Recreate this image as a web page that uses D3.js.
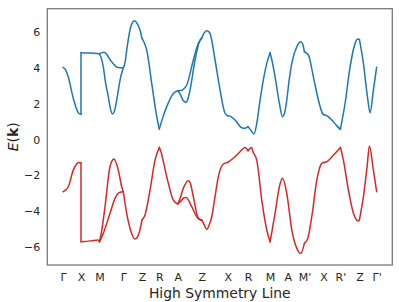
<!DOCTYPE html>
<html><head><meta charset="utf-8">
<script src="https://cdn.jsdelivr.net/npm/d3@7"></script>
<style>body{margin:0;background:#fff;} text{font-family:"DejaVu Sans",sans-serif;fill:#262626;}</style>
</head><body><svg id="c" width="399" height="302"></svg>
<script>
// High-symmetry tick labels and their k positions
const tickLabels = ["Γ","X","M","Γ","Z","R","A","Z","X","R","M","A","M'","X","R'","Z","Γ'"];
const tickK = [0,18,36.5,60.3,79,96.3,114.7,138.7,164.7,185,207,224.7,241.3,260.3,277.3,296.3,313.5];
const yTicks = [-6,-4,-2,0,2,4,6];

// Upper (conduction) band, as [k, E] segments
const upperBand = [
  [[0,4.04],[2,3.95],[5.3,3.5],[10.3,2.3],[14.7,1.56],[17,1.41],[18,1.41]],
  [[18,4.86],[27,4.84],[36.5,4.80]],
  [[36.5,4.80],[38.5,4.85],[41.3,4.88],[44.3,4.72],[47.3,4.45],[50.3,4.24],[53,4.08],[55.3,4.03],[60.3,4.0]],
  [[36.5,4.80],[38,4.6],[40.3,4.07],[42.5,3.2],[45.3,2.4],[47.5,1.7],[49.3,1.43],[51.5,1.6],[53.7,2.21],[57.7,3.51],[60.3,4.0]],
  [[60.3,4.0],[62,4.3],[63.7,5.0],[67,6.13],[69,6.5],[71.3,6.65],[73.5,6.55],[77,6.13],[79,5.66]],
  [[79,5.66],[81,5.45],[83.7,5.0],[88.7,3.14],[93.7,1.28],[96.3,0.59]],
  [[96.3,0.59],[99,1.1],[103.7,1.84],[110.3,2.58],[114.7,2.73]],
  [[114.7,2.73],[118.7,2.74],[121,2.85],[123.7,3.05],[130.3,4.45],[135.3,5.38],[138.7,5.66]],
  [[114.7,2.73],[117,2.55],[120,2.2],[123,2.08],[125,2.3],[127,2.77],[132,4.45],[137,5.57],[138.7,5.7]],
  [[138.7,5.68],[141,5.95],[143.7,6.09],[145,6.06],[147,5.94],[152,4.45],[157,2.77],[162,1.47],[164.7,1.33]],
  [[164.7,1.33],[167,1.31],[172,1.09],[178.7,0.66],[182,0.63],[185,0.72]],
  [[185,0.72],[188,0.5],[191,0.31],[194,1.0],[197,2.21],[203.7,4.26],[207,4.86]],
  [[207,4.86],[209,4.4],[212,3.51],[216.3,2.03],[219.3,1.28],[221,1.4],[223.7,2.21],[226,3.3],[228.7,4.26],[233.7,5.19],[237.7,5.47],[239.5,5.35],[241.3,4.91]],
  [[241.3,4.91],[245.3,4.73],[250.3,3.51],[255.3,2.21],[259.3,1.47],[260.3,1.4]],
  [[260.3,1.4],[264.3,1.31],[270.3,1.0],[274,0.75],[277.3,0.57]],
  [[277.3,0.57],[282,2.03],[287,4.07],[292,5.38],[294.5,5.62],[296.3,5.6]],
  [[296.3,5.6],[300.3,4.26],[304.3,2.4],[307,1.5],[310.3,2.77],[313.5,4.04]]
];
const upperJump = [[18,1.41],[18,4.86]];

// Lower (valence) band, as [k, E] segments
const lowerBand = [
  [[0,-2.92],[2,-2.85],[5.3,-2.64],[10.3,-1.71],[14,-1.35],[16,-1.29],[18,-1.3]],
  [[18,-5.72],[28,-5.67],[35,-5.62],[36.5,-5.72]],
  [[36.5,-5.72],[39,-5.0],[42,-3.76],[47,-1.52],[51,-1.09],[55.3,-1.71],[58.7,-2.64],[60.3,-2.92]],
  [[36.5,-5.72],[40.3,-5.25],[47,-4.13],[52,-3.29],[57,-2.95],[60.3,-2.92]],
  [[60.3,-2.92],[63.7,-4.13],[68,-5.16],[72,-5.57],[76,-5.25],[79,-4.5]],
  [[79,-4.5],[82,-4.22],[87,-2.83],[92,-1.15],[96.3,-0.44]],
  [[96.3,-0.44],[98,-0.7],[103.7,-2.08],[110.3,-3.39],[114.7,-3.61]],
  [[114.7,-3.61],[117,-3.3],[120.3,-2.73],[125.3,-2.3],[127,-2.4],[130.3,-3.2],[135.3,-4.41],[138.7,-4.5]],
  [[114.7,-3.61],[118.7,-3.39],[121,-3.26],[123,-3.24],[128.7,-3.76],[133.7,-4.32],[138.7,-4.54]],
  [[138.7,-4.5],[141,-4.75],[143.7,-5.03],[146,-4.8],[148.7,-4.32],[152,-3.2],[155.3,-2.08],[160.3,-1.37],[164.7,-1.28]],
  [[164.7,-1.28],[170.3,-1.05],[177,-0.68],[182,-0.44],[185,-0.63]],
  [[185,-0.63],[188.5,-0.44],[190,-0.7],[193.7,-1.15],[198.7,-3.39],[203.7,-5.06],[207,-5.72]],
  [[207,-5.72],[209,-5.1],[212,-4.13],[216.3,-2.64],[219.3,-2.17],[223.7,-3.01],[228.7,-5.06],[233.7,-6.09],[237.7,-6.37],[241.3,-5.81]],
  [[241.3,-5.81],[244.7,-5.53],[248.7,-4.32],[253.7,-2.27],[258.7,-1.33],[260.3,-1.28]],
  [[260.3,-1.28],[263.7,-1.24],[270.3,-0.87],[277.3,-0.44]],
  [[277.3,-0.44],[280.3,-1.15],[285.3,-2.83],[290.3,-4.13],[295.3,-4.56],[296.3,-4.5]],
  [[296.3,-4.5],[300.3,-3.2],[304,-1.5],[306.3,-0.36],[310.3,-1.71],[313.5,-2.92]]
];
const lowerJump = [[18,-1.3],[18,-5.72]];

const svg = d3.select("#c");
const L = 47.3, R = 392.3, T = 8.7, B = 265;
const kMin = 0, kMax = 313.5, pad = (kMax - kMin) * 0.05;
const x = d3.scaleLinear().domain([kMin - pad, kMax + pad]).range([L, R]);
const y = d3.scaleLinear().domain([-7.02, 7.32]).range([B, T]);

const line = d3.line().x(d => x(d[0])).y(d => y(d[1])).curve(d3.curveMonotoneX);
const lineStraight = d3.line().x(d => x(d[0])).y(d => y(d[1]));

function drawBand(segs, jump, color) {
  const g = svg.append("g").attr("fill", "none").attr("stroke", color)
    .attr("stroke-width", 1.5).attr("stroke-linejoin", "round").attr("stroke-linecap", "round");
  g.selectAll("path.s").data(segs).join("path").attr("class", "s").attr("d", line);
  g.append("path").attr("d", lineStraight(jump));
}
drawBand(upperBand, upperJump, "#1f77b4");
drawBand(lowerBand, lowerJump, "#d62728");

// axes with no tick marks
const xAxis = d3.axisBottom(x).tickValues(tickK).tickFormat((d, i) => tickLabels[i]).tickSize(0).tickPadding(8);
const yAxis = d3.axisLeft(y).tickValues(yTicks).tickFormat(d => d < 0 ? "\u2212" + Math.abs(d) : d).tickSize(0).tickPadding(7);
const gx = svg.append("g").attr("transform", `translate(0,${B})`).call(xAxis);
const gy = svg.append("g").attr("transform", `translate(${L},0)`).call(yAxis);
[gx, gy].forEach(g => { g.select(".domain").remove(); g.selectAll("text").attr("font-size", 11).attr("font-family", "DejaVu Sans").attr("fill", "#262626"); });

// frame
svg.append("rect").attr("x", L).attr("y", T).attr("width", R - L).attr("height", B - T)
  .attr("fill", "none").attr("stroke", "#7a7a7a").attr("stroke-width", 1.3);

// axis labels
svg.append("text").attr("x", (L + R) / 2).attr("y", 298).attr("text-anchor", "middle")
  .attr("font-size", 13.9).text("High Symmetry Line");
const yl = svg.append("text").attr("transform", `translate(18,${(T + B) / 2}) rotate(-90)`)
  .attr("text-anchor", "middle").attr("font-size", 13.9);
yl.append("tspan").attr("font-style", "italic").text("E");
yl.append("tspan").text("(");
yl.append("tspan").attr("font-weight", "bold").text("k");
yl.append("tspan").text(")");
</script></body></html>
